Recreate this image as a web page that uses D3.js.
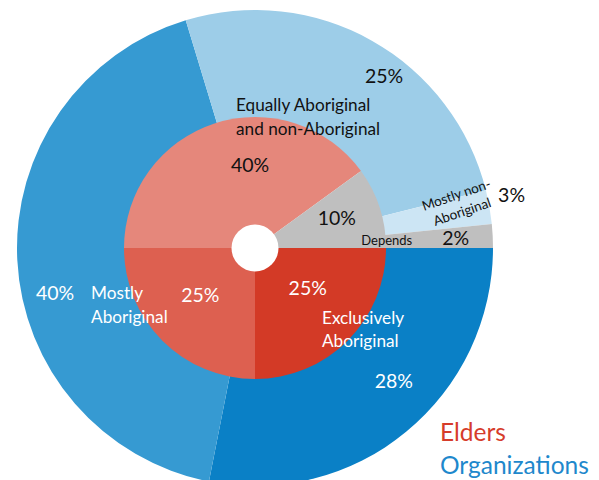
<!DOCTYPE html>
<html>
<head>
<meta charset="utf-8">
<script src="https://cdn.jsdelivr.net/npm/d3@7"></script>
<style>
  html, body { margin: 0; padding: 0; background: #fff; }
  svg { display: block; font-family: Lato, "Open Sans", sans-serif; }
</style>
</head>
<body>
<svg id="chart" width="599" height="480"></svg>
<script>
// ---- data ----
const categories = ["Exclusively Aboriginal", "Mostly Aboriginal", "Equally Aboriginal and non-Aboriginal", "Mostly non-Aboriginal", "Depends"];
// inner ring (Elders): slice shares
const eldersValues = [25, 25, 40, 0, 10];
const eldersLabels = ["25%", "25%", "40%", "", "10%"];
// outer ring (Organizations): slice shares as drawn (angles)
const orgValues = [28.1, 42.2, 25.8, 2.3, 1.6];
const orgLabels = ["28%", "40%", "25%", "3%", "2%"];
const eldersColors = ["#D33A26", "#DD6050", "#E5877B", "#E5877B", "#BFBFBF"];
const orgColors = ["#0A80C6", "#369AD2", "#9DCDE8", "#CCE5F4", "#BFBFBF"];
const seriesNames = ["Elders", "Organizations"];
const legendColors = ["#D63C2B", "#1E88CC"];

// ---- layout ----
const cx = 255, cy = 248;
const rOuter = 238, rInner = 131, rHole = 23.5;

const svg = d3.select("#chart");
const g = svg.append("g").attr("transform", `translate(${cx},${cy})`);

const pie = d3.pie().sort(null).value(d => d.value)
  .startAngle(Math.PI / 2).endAngle(Math.PI / 2 + 2 * Math.PI);

const orgData = pie(categories.map((c, i) => ({ cat: c, value: orgValues[i], label: orgLabels[i], color: orgColors[i] })));
const eldData = pie(categories.map((c, i) => ({ cat: c, value: eldersValues[i], label: eldersLabels[i], color: eldersColors[i] })));

const arcOuter = d3.arc().innerRadius(rInner - 1).outerRadius(rOuter);
const arcInner = d3.arc().innerRadius(0).outerRadius(rInner);

g.selectAll("path.org").data(orgData).join("path").attr("class", "org")
  .attr("d", arcOuter).attr("fill", d => d.data.color);
g.selectAll("path.eld").data(eldData.filter(d => d.value > 0)).join("path").attr("class", "eld")
  .attr("d", arcInner).attr("fill", d => d.data.color);
g.append("circle").attr("r", rHole).attr("fill", "#fff");

// polar helper: radius, angle in degrees clockwise from top
function polar(r, deg) {
  const a = deg * Math.PI / 180;
  return [r * Math.sin(a), -r * Math.cos(a)];
}

// percentage label placement (radius, angle) per slice
const eldPctPos = [[66, 127], [72, 229.5], [83, 356.6], null, [87, 70]];
const orgPctPos = [[192, 133.7], [205, 257.3], [215, 36.9], [262, 78.3], [201, 87.2]];
const eldPctFill = ["#fff", "#fff", "#111", null, "#111"];
const orgPctFill = ["#fff", "#fff", "#111", "#111", "#111"];

function pctLabels(data, pos, fills) {
  data.forEach((d, i) => {
    if (!pos[i] || d.value <= 0) return;
    const [x, y] = polar(pos[i][0], pos[i][1]);
    g.append("text").attr("x", x).attr("y", y).attr("dy", "0.36em")
      .attr("text-anchor", "middle").attr("font-size", 19.5)
      .attr("fill", fills[i]).text(d.data.label);
  });
}
pctLabels(eldData, eldPctPos, eldPctFill);
pctLabels(orgData, orgPctPos, orgPctFill);

// category name labels (pos = first-line baseline for left-aligned blocks, centre for rotated/centred)
const nameLabels = [
  { lines: ["Exclusively", "Aboriginal"], pos: [101.3, 138.6], anchor: "start", size: 17.2, fill: "#fff", lh: 23.5 },
  { lines: ["Mostly", "Aboriginal"], pos: [171.7, 252.7], anchor: "start", size: 17.2, fill: "#fff", lh: 23.5 },
  { lines: ["Equally Aboriginal", "and non-Aboriginal"], pos: [138.3, -7.9], anchor: "start", size: 17.2, fill: "#111", lh: 23.5 },
  { lines: ["Mostly non-", "Aboriginal"], pos: [209, 77.6], anchor: "middle", size: 13.5, fill: "#111", lh: 18, rotate: -19 },
  { lines: ["Depends"], pos: [132, 86.5], anchor: "middle", size: 13, fill: "#111", lh: 16, centred: true }
];

nameLabels.forEach(l => {
  const [x, y] = polar(l.pos[0], l.pos[1]);
  const t = g.append("text").attr("font-size", l.size).attr("fill", l.fill)
    .attr("text-anchor", l.anchor);
  if (l.rotate) {
    t.attr("transform", `translate(${x},${y}) rotate(${l.rotate})`);
    const n = l.lines.length;
    l.lines.forEach((s, k) => {
      t.append("tspan").attr("x", 0).attr("y", (k - (n - 1) / 2) * l.lh).attr("dy", "0.36em").text(s);
    });
  } else {
    l.lines.forEach((s, k) => {
      t.append("tspan").attr("x", x).attr("y", y + k * l.lh)
        .attr("dy", l.centred ? "0.36em" : null).text(s);
    });
  }
});

// legend
const legend = svg.append("g").attr("transform", "translate(440,432)");
seriesNames.forEach((s, i) => {
  legend.append("text").attr("x", 0).attr("y", i * 33).attr("dy", "0.36em")
    .attr("font-size", 24.5).attr("fill", legendColors[i]).text(s);
});
</script>
</body>
</html>
